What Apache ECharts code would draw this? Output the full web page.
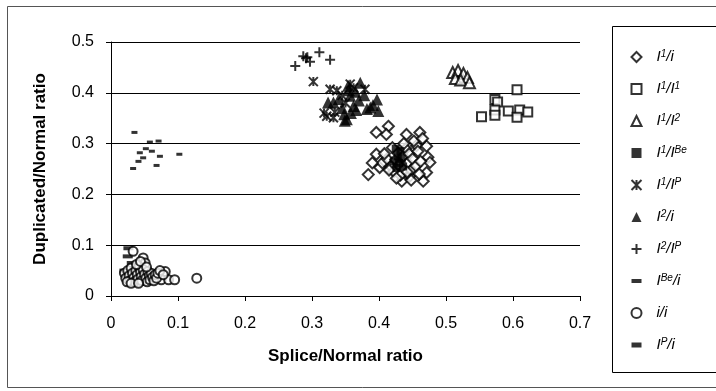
<!DOCTYPE html>
<html>
<head>
<meta charset="utf-8">
<script src="https://cdn.jsdelivr.net/npm/echarts@6/dist/echarts.min.js"></script>
<style>
  html, body { margin: 0; padding: 0; background: #fff; }
  #chart { width: 716px; height: 391px; }
</style>
</head>
<body>
<div id="chart"></div>
<script>
// series names and their legend labels (rich text for superscripts)
const seriesNames = ['I1/i', 'I1/I1', 'I1/I2', 'I1/IBe', 'I1/IP', 'I2/i', 'I2/IP', 'IBe/i', 'i/i', 'IP/i']
const legendLabels = [
  'I{s|1}/i', 'I{s|1}/I{s|1}', 'I{s|1}/I{s|2}', 'I{s|1}/I{s|Be}', 'I{s|1}/I{s|P}',
  'I{s|2}/i', 'I{s|2}/I{s|P}', 'I{s|Be}/i', 'i/i', 'I{s|P}/i',
]

const xTicks = [0, 0.1, 0.2, 0.3, 0.4, 0.5, 0.6, 0.7]
const yTicks = [0, 0.1, 0.2, 0.3, 0.4, 0.5]

// [splice ratio, duplicated ratio]
const i1_i = [
  [0.396, 0.322], [0.414, 0.334], [0.411, 0.318], [0.441, 0.318], [0.461, 0.322], [0.456, 0.296],
  [0.471, 0.295], [0.473, 0.273], [0.476, 0.263], [0.471, 0.243], [0.466, 0.226], [0.434, 0.226],
  [0.446, 0.236], [0.401, 0.253], [0.384, 0.239], [0.396, 0.279], [0.405, 0.262], [0.412, 0.270],
  [0.418, 0.255], [0.422, 0.245], [0.425, 0.268], [0.428, 0.282], [0.430, 0.258], [0.432, 0.238],
  [0.436, 0.275], [0.438, 0.250], [0.440, 0.290], [0.443, 0.262], [0.445, 0.280], [0.448, 0.248],
  [0.450, 0.270], [0.452, 0.305], [0.455, 0.256], [0.458, 0.285], [0.460, 0.240], [0.462, 0.265],
  [0.420, 0.292], [0.426, 0.232], [0.415, 0.248], [0.408, 0.280], [0.437, 0.300], [0.448, 0.228],
  [0.465, 0.310], [0.390, 0.262], [0.442, 0.244],
]
const i1_i1 = [
  [0.606, 0.406], [0.573, 0.387], [0.577, 0.382], [0.573, 0.366], [0.573, 0.356],
  [0.593, 0.364], [0.610, 0.366], [0.622, 0.362], [0.606, 0.352], [0.553, 0.353],
]
const i1_i2 = [
  [0.510, 0.440], [0.518, 0.444], [0.526, 0.438], [0.532, 0.430], [0.514, 0.428], [0.522, 0.425], [0.535, 0.420],
]
const i1_iBe = [
  [0.425, 0.290], [0.428, 0.275], [0.430, 0.262], [0.432, 0.285],
  [0.426, 0.252], [0.434, 0.270], [0.422, 0.265], [0.436, 0.255],
]
const i1_iP = [
  [0.302, 0.422], [0.327, 0.407], [0.337, 0.404], [0.357, 0.417], [0.379, 0.407], [0.322, 0.354],
  [0.332, 0.351], [0.334, 0.362], [0.345, 0.395], [0.362, 0.410], [0.350, 0.380], [0.318, 0.360],
]
const i2_i = [
  [0.372, 0.420], [0.354, 0.414], [0.357, 0.394], [0.397, 0.387], [0.399, 0.364], [0.382, 0.368],
  [0.362, 0.374], [0.332, 0.381], [0.349, 0.345], [0.324, 0.381], [0.387, 0.371], [0.352, 0.348],
  [0.365, 0.402], [0.370, 0.385], [0.345, 0.370], [0.358, 0.360], [0.378, 0.395], [0.391, 0.376],
  [0.340, 0.388], [0.366, 0.366], [0.355, 0.405], [0.348, 0.358],
]
const i2_iP = [
  [0.275, 0.453], [0.287, 0.472], [0.291, 0.468], [0.297, 0.461], [0.311, 0.480], [0.327, 0.465], [0.293, 0.470],
]
const iBe_i = [
  [0.026, 0.094], [0.031, 0.065], [0.025, 0.078], [0.020, 0.050], [0.030, 0.045], [0.035, 0.055], [0.022, 0.040],
]
const i_i = [
  [0.033, 0.088], [0.048, 0.075], [0.051, 0.065], [0.081, 0.048], [0.071, 0.038], [0.075, 0.032],
  [0.086, 0.032], [0.095, 0.032], [0.128, 0.035], [0.020, 0.045], [0.022, 0.035], [0.025, 0.050],
  [0.027, 0.040], [0.028, 0.030], [0.030, 0.055], [0.032, 0.045], [0.034, 0.036], [0.035, 0.028],
  [0.037, 0.050], [0.039, 0.042], [0.040, 0.033], [0.042, 0.058], [0.044, 0.047], [0.045, 0.038],
  [0.046, 0.030], [0.048, 0.052], [0.050, 0.043], [0.052, 0.035], [0.054, 0.028], [0.055, 0.048],
  [0.057, 0.040], [0.058, 0.032], [0.060, 0.045], [0.062, 0.037], [0.064, 0.030], [0.066, 0.042],
  [0.068, 0.035], [0.070, 0.045], [0.073, 0.050], [0.078, 0.042], [0.024, 0.028], [0.038, 0.062],
  [0.044, 0.068], [0.053, 0.057], [0.030, 0.025], [0.041, 0.025],
]
const iP_i = [
  [0.033, 0.251], [0.041, 0.265], [0.048, 0.272], [0.043, 0.282], [0.061, 0.285], [0.058, 0.303],
  [0.071, 0.305], [0.073, 0.275], [0.068, 0.257], [0.102, 0.279], [0.035, 0.322], [0.052, 0.290],
]

const seriesData = [i1_i, i1_i1, i1_i2, i1_iBe, i1_iP, i2_i, i2_iP, iBe_i, i_i, iP_i]

const open = { color: '#fff', borderColor: '#000', borderWidth: 2 }
const solid = { color: '#000', borderWidth: 0 }
const stroke = { color: 'none', borderColor: '#000', borderWidth: 2 }

const markers = [
  { symbol: 'path://M5,0L10,5L5,10L0,5Z', size: 11, style: open },
  { symbol: 'rect', size: 9, style: open },
  { symbol: 'triangle', size: 11, style: open },
  { symbol: 'rect', size: 8, style: solid },
  { symbol: 'path://M0,0L10,10M10,0L0,10M5,0L5,10', size: 9, style: stroke },
  { symbol: 'triangle', size: 12, style: solid },
  { symbol: 'path://M5,0L5,10M0,5L10,5', size: 10, style: stroke },
  { symbol: 'path://M0,0H10V4H0Z', size: 10, style: solid },
  { symbol: 'circle', size: 9, style: open },
  { symbol: 'path://M0,0H6V3H0Z', size: 6, style: solid },
]

const chart = echarts.init(document.getElementById('chart'), null, { renderer: 'canvas' })

chart.setOption({
  animation: false,
  backgroundColor: '#fff',
  textStyle: { fontFamily: 'Liberation Sans', color: '#000' },
  grid: { left: 111, right: 136, top: 42, bottom: 95 },
  graphic: [
    {
      type: 'rect',
      shape: { x: 7.5, y: 6.5, width: 760, height: 381 },
      style: { fill: 'none', stroke: '#555', lineWidth: 1 },
      silent: true,
    },
    {
      type: 'rect',
      shape: { x: 612.5, y: 26.5, width: 120, height: 346 },
      style: { fill: '#fff', stroke: '#000', lineWidth: 1 },
      silent: true,
    },
  ],
  legend: {
    orient: 'vertical',
    left: 624,
    top: 44,
    itemWidth: 10,
    itemHeight: 10,
    itemGap: 16,
    z: 10,
    data: seriesNames.map((name, k) => ({ name, icon: markers[k].symbol })),
    formatter: (name) => legendLabels[seriesNames.indexOf(name)],
    textStyle: {
      fontFamily: 'Liberation Sans',
      fontStyle: 'italic',
      fontSize: 15,
      lineHeight: 16,
      color: '#000',
      padding: [0, 0, 0, 10],
      rich: {
        s: { fontSize: 10, fontStyle: 'italic', verticalAlign: 'top', lineHeight: 10, padding: [0, 0, 6, 0] },
      },
    },
  },
  xAxis: {
    type: 'value',
    min: 0,
    max: 0.7,
    interval: 0.1,
    name: 'Splice/Normal ratio',
    nameLocation: 'middle',
    nameGap: 52,
    nameTextStyle: { fontWeight: 'bold', fontSize: 17, color: '#000' },
    axisLine: { lineStyle: { color: '#000', width: 1 } },
    axisTick: { show: true, inside: false, length: 5, lineStyle: { color: '#000' } },
    axisLabel: {
      fontSize: 16,
      color: '#000',
      margin: 20,
      formatter: (v) => {
        const t = xTicks.find((x) => Math.abs(x - v) < 1e-6)
        return t === undefined ? '' : String(t)
      },
    },
    splitLine: { show: false },
  },
  yAxis: {
    type: 'value',
    min: 0,
    max: 0.5,
    interval: 0.1,
    name: 'Duplicated/Normal ratio',
    nameLocation: 'middle',
    nameGap: 62,
    nameRotate: 90,
    nameTextStyle: { fontWeight: 'bold', fontSize: 17, color: '#000' },
    axisLine: { show: true, lineStyle: { color: '#000', width: 1 } },
    axisTick: { show: true, inside: false, length: 5, lineStyle: { color: '#000' } },
    axisLabel: {
      fontSize: 16,
      color: '#000',
      margin: 17,
      formatter: (v) => {
        const t = yTicks.find((y) => Math.abs(y - v) < 1e-6)
        return t === undefined ? '' : String(t)
      },
    },
    splitLine: { show: true, lineStyle: { color: '#000', width: 1 } },
  },
  series: seriesNames.map((name, k) => ({
    name,
    type: 'scatter',
    data: seriesData[k],
    symbol: markers[k].symbol,
    symbolSize: markers[k].size,
    symbolKeepAspect: true,
    itemStyle: markers[k].style,
    emphasis: { disabled: true },
  })),
})
</script>
</body>
</html>
